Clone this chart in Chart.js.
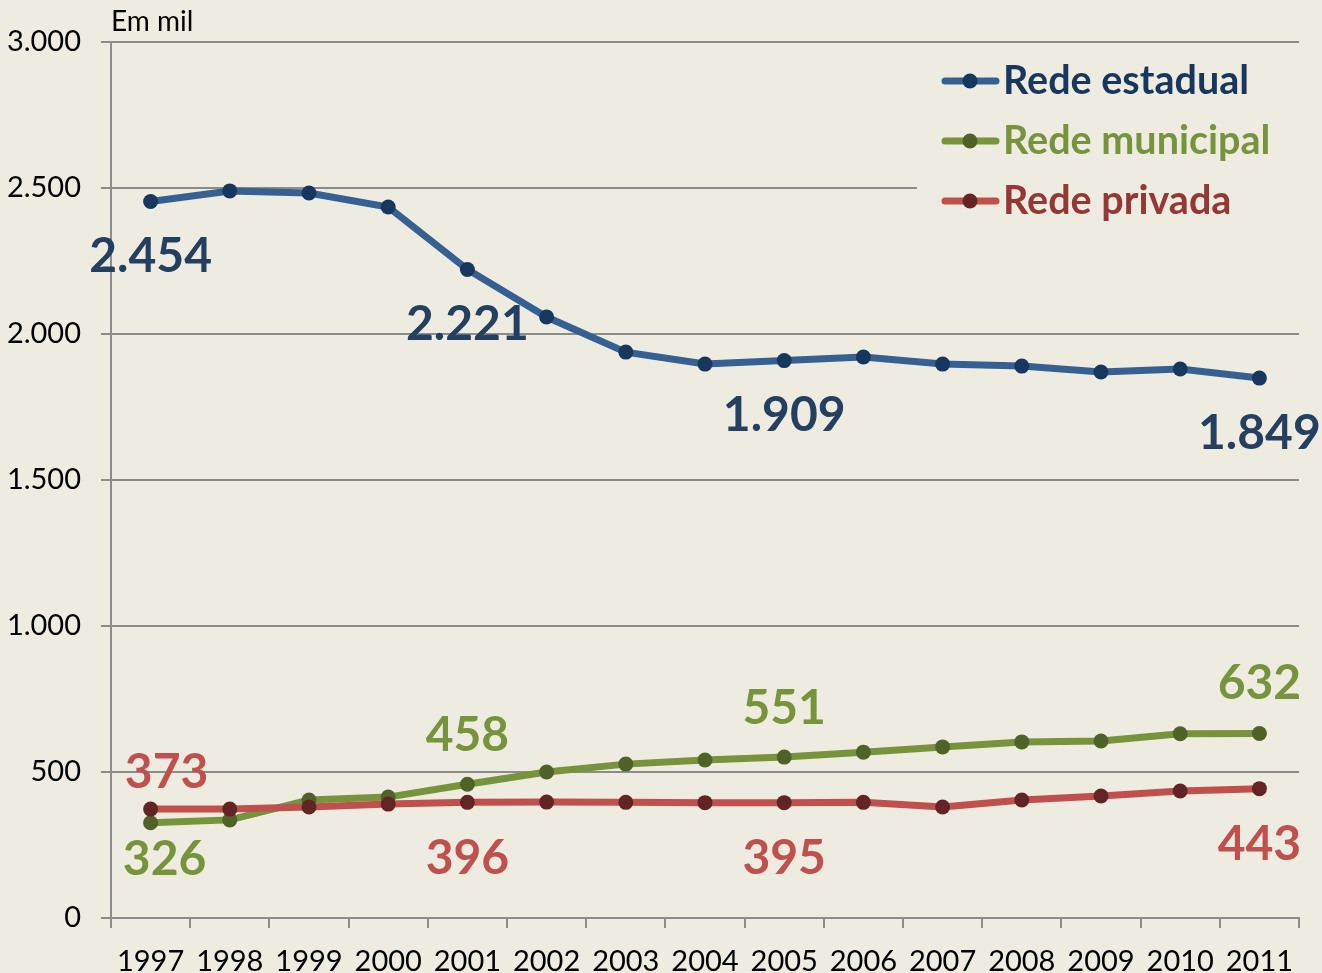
<!DOCTYPE html>
<html>
<head>
<meta charset="utf-8">
<script src="https://cdn.jsdelivr.net/npm/chart.js@4"></script>
<style>
  html, body { margin: 0; padding: 0; background: #EEECE1; }
  #wrap { width: 1322px; height: 973px; }
</style>
</head>
<body>
<div id="wrap"><canvas id="chart" width="1322" height="973"></canvas></div>
<script>
const years = ['1997', '1998', '1999', '2000', '2001', '2002', '2003', '2004', '2005', '2006', '2007', '2008', '2009', '2010', '2011'];
const estadual = [2454, 2490, 2483, 2435, 2221, 2058, 1938, 1897, 1909, 1921, 1897, 1890, 1870, 1880, 1849];
const municipal = [326, 336, 404, 414, 458, 500, 527, 541, 551, 568, 586, 603, 606, 631, 632];
const privada = [373, 373, 380, 390, 396, 397, 396, 395, 395, 396, 380, 404, 418, 435, 443];
const yTicks = [0, 500, 1000, 1500, 2000, 2500, 3000];
const labelledYears = [0, 4, 8, 14];

const fmt = v => String(v).replace(/\B(?=(\d{3})+(?!\d))/g, '.');
const FONT = 'Lato, "Open Sans", sans-serif';

// where each series' value labels sit relative to the point (px): [dx, dy]
const labelOffsets = [
  [[0, 55], [0, 55], [0, 55], [0, 55]],
  [[14, 37], [0, -49], [0, -49], [0, -50]],
  [[16, -37], [0, 56], [0, 56], [0, 56]]
];

const series = [
  { name: 'Rede estadual', data: estadual, line: '#376092', dot: '#17375E', text: '#17375E', label: '#243F60' },
  { name: 'Rede municipal', data: municipal, line: '#77933C', dot: '#4F6228', text: '#77933C', label: '#77933C' },
  { name: 'Rede privada', data: privada, line: '#C0504D', dot: '#632523', text: '#953735', label: '#C0504D' }
];

const extras = {
  id: 'extras',
  beforeDatasetsDraw(chart) {
    const ctx = chart.ctx;
    ctx.save();
    ctx.fillStyle = '#EEECE1';
    ctx.fillRect(917, 50, 390, 180);
    ctx.restore();
  },
  afterDraw(chart) {
    const ctx = chart.ctx;
    ctx.save();
    // unit note
    ctx.fillStyle = '#000';
    ctx.font = '28px ' + FONT;
    ctx.textAlign = 'left';
    ctx.textBaseline = 'middle';
    ctx.fillText('Em mil', 111, 22);

    // value labels
    ctx.font = 'bold 48px ' + FONT;
    ctx.textAlign = 'center';
    series.forEach((s, i) => {
      const meta = chart.getDatasetMeta(i);
      labelledYears.forEach((idx, k) => {
        const pt = meta.data[idx];
        const off = labelOffsets[i][k];
        ctx.fillStyle = s.label;
        ctx.fillText(fmt(s.data[idx]), pt.x + off[0], pt.y + off[1]);
      });
    });

    // legend
    series.forEach((s, i) => {
      const y = 81 + i * 60;
      ctx.strokeStyle = s.line;
      ctx.lineWidth = 7;
      ctx.lineCap = 'round';
      ctx.beginPath();
      ctx.moveTo(945, y);
      ctx.lineTo(996, y);
      ctx.stroke();
      ctx.fillStyle = s.dot;
      ctx.beginPath();
      ctx.arc(970, y, 7.5, 0, Math.PI * 2);
      ctx.fill();
      ctx.fillStyle = s.text;
      ctx.font = 'bold 39.5px ' + FONT;
      ctx.textAlign = 'left';
      ctx.textBaseline = 'middle';
      ctx.fillText(s.name, 1003, y);
    });
    ctx.restore();
  }
};

new Chart(document.getElementById('chart'), {
  type: 'line',
  data: {
    labels: years,
    datasets: series.map((s, i) => ({
      label: s.name,
      data: s.data,
      borderColor: s.line,
      backgroundColor: s.dot,
      pointBackgroundColor: s.dot,
      pointBorderColor: s.dot,
      pointRadius: 7.5,
      pointBorderWidth: 0,
      borderWidth: 7,
      tension: 0,
      order: 2 - i
    }))
  },
  options: {
    responsive: false,
    animation: false,
    layout: { padding: { top: 42, right: 23, left: 0, bottom: 0 } },
    plugins: { legend: { display: false }, tooltip: { enabled: false } },
    scales: {
      x: {
        offset: true,
        grid: { offset: true, drawOnChartArea: false, color: '#8C8C8C', lineWidth: 2, tickLength: 10 },
        border: { color: '#8C8C8C', width: 2 },
        ticks: { color: '#000', font: { family: FONT, size: 29 }, padding: 16, maxRotation: 0, autoSkip: false },
        afterFit(scale) { scale.height = 55; }
      },
      y: {
        min: 0,
        max: 3000,
        afterBuildTicks(scale) { scale.ticks = yTicks.map(v => ({ value: v })); },
        grid: { color: '#8C8C8C', lineWidth: 2, tickLength: 10 },
        border: { color: '#8C8C8C', width: 2 },
        ticks: { color: '#000', font: { family: FONT, size: 29 }, padding: 20, callback: v => fmt(v) },
        afterFit(scale) { scale.width = 111; }
      }
    }
  },
  plugins: [extras]
});
</script>
</body>
</html>
